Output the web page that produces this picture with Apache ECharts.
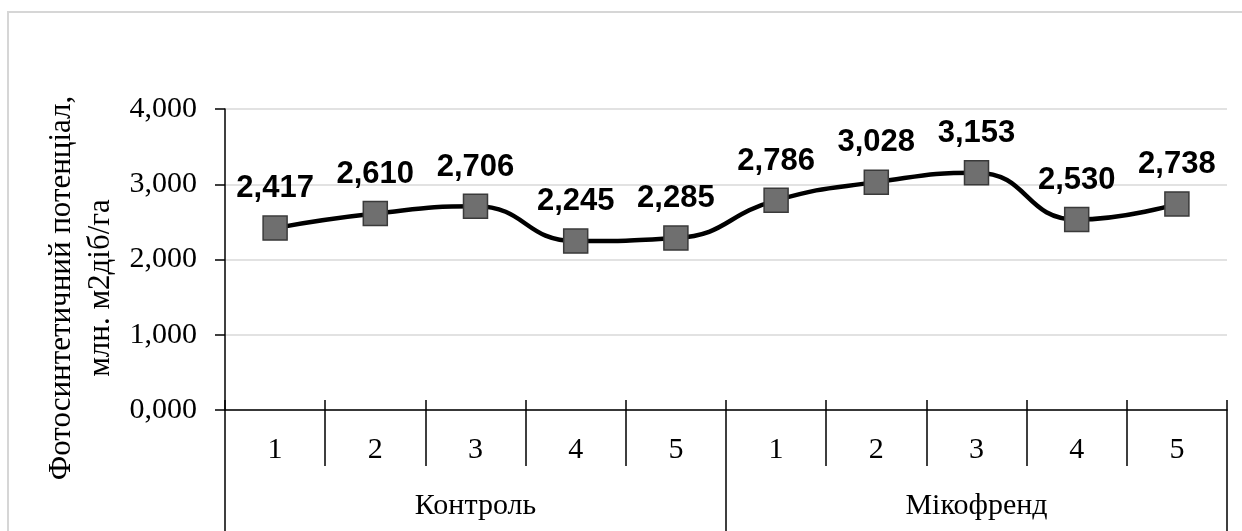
<!DOCTYPE html>
<html>
<head>
<meta charset="utf-8">
<script src="https://cdn.jsdelivr.net/npm/echarts@6/dist/echarts.min.js"></script>
<style>
  html, body { margin: 0; padding: 0; background: #fff; }
  #chart { width: 1242px; height: 531px; }
</style>
</head>
<body>
<div id="chart"></div>
<script>
// варіанти (номер) і групи
var variants = ['1', '2', '3', '4', '5', '1', '2', '3', '4', '5'];
var groups = ['Контроль', 'Мікофренд'];
// фотосинтетичний потенціал, млн. м2діб/га
var values = [2.417, 2.610, 2.706, 2.245, 2.285, 2.786, 3.028, 3.153, 2.530, 2.738];
var yTitle = 'Фотосинтетичний потенціал,\nмлн. м2діб/га';

function fmt(v) {
  return Number(v).toFixed(3).replace('.', ',');
}

var serif = 'Liberation Serif';
var chart = echarts.init(document.getElementById('chart'));
chart.setOption({
  animation: false,
  grid: { left: 225, right: 15, top: 109, bottom: 121 },
  graphic: [
    {
      type: 'rect',
      shape: { x: 8, y: 12, width: 1260, height: 560 },
      style: { fill: 'none', stroke: '#d6d6d6', lineWidth: 2 },
      silent: true
    },
    {
      type: 'text',
      x: 81, y: 288,
      rotation: Math.PI / 2,
      style: {
        text: yTitle,
        font: '31px "Liberation Serif"',
        fill: '#000',
        align: 'center',
        verticalAlign: 'middle',
        lineHeight: 39
      }
    }
  ],
  xAxis: [
    {
      type: 'category',
      data: variants,
      position: 'bottom',
      axisLine: { lineStyle: { color: '#000', width: 1.5 } },
      axisTick: { show: true, interval: 0, length: 56, lineStyle: { color: '#000', width: 1.5 } },
      axisLabel: { interval: 0, margin: 25, fontFamily: serif, fontSize: 30, color: '#000' }
    },
    {
      type: 'category',
      data: groups,
      position: 'bottom',
      axisLine: { show: false },
      axisTick: { show: true, interval: 0, length: 125, lineStyle: { color: '#000', width: 1.5 } },
      axisLabel: { interval: 0, margin: 81, fontFamily: serif, fontSize: 30, color: '#000' }
    },
    {
      type: 'category',
      data: variants,
      position: 'bottom',
      axisLine: { show: false },
      axisTick: { show: true, inside: true, interval: 0, length: 10, lineStyle: { color: '#000', width: 1.5 } },
      axisLabel: { show: false }
    }
  ],
  yAxis: {
    type: 'value',
    min: 0,
    max: 4,
    interval: 1,
    axisLine: { show: true, lineStyle: { color: '#000', width: 1.5 } },
    axisTick: { show: true, length: 10, lineStyle: { color: '#000', width: 1.5 } },
    splitLine: { lineStyle: { color: '#d9d9d9', width: 1.5 } },
    axisLabel: { margin: 28, fontFamily: serif, fontSize: 30, color: '#000', formatter: fmt }
  },
  series: [
    {
      type: 'line',
      data: values,
      smooth: 0.5,
      symbol: 'rect',
      symbolSize: 24,
      lineStyle: { color: '#000', width: 4.5 },
      itemStyle: { color: '#6f6f6f', borderColor: '#3a3a3a', borderWidth: 1.5 },
      label: {
        show: true,
        position: 'top',
        distance: 11,
        fontFamily: 'Liberation Sans',
        fontWeight: 'bold',
        fontSize: 31,
        color: '#000',
        formatter: function (p) { return fmt(p.value); }
      },
      z: 5
    }
  ]
});
</script>
</body>
</html>
